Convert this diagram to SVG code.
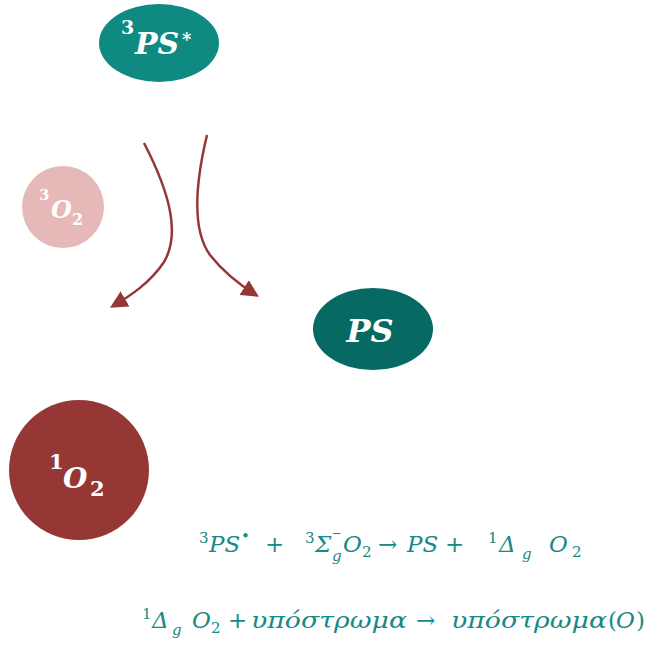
<svg xmlns="http://www.w3.org/2000/svg" width="654" height="649" viewBox="0 0 654 649">
<defs>
<style>
.lbl{font-family:"DejaVu Serif","Liberation Serif",serif;font-style:italic;font-weight:bold;fill:#ffffff}
.sup{font-family:"DejaVu Serif","Liberation Serif",serif;font-style:normal;font-weight:bold;fill:#ffffff}
.eq{font-family:"DejaVu Serif","Liberation Serif",serif;font-style:italic;fill:#168a84;font-size:23px}
.up{font-style:normal}
.sm{font-size:15px}
.xs{font-size:12px}
.conn{fill:none;stroke:#953735;stroke-width:2.5}
</style>
<marker id="ah" viewBox="0 0 10 10" refX="8" refY="5" markerWidth="7" markerHeight="7" markerUnits="strokeWidth" orient="auto">
<path d="M0,0 L10,5 L0,10 Z" fill="#953735"/>
</marker>
</defs>
<rect width="654" height="649" fill="#ffffff"/>
<g id="connectors">
<path class="conn" d="M144,143 C171,195 180,235 164,262 C150,283 130,296 113,306" marker-end="url(#ah)"/>
<path class="conn" d="M207,135 C195,185 192,230 210,255 C225,274 240,285 256,295" marker-end="url(#ah)"/>
</g>
<g id="node-3PS">
<ellipse cx="159" cy="43" rx="60" ry="39" fill="#0e8a80"/>
<text class="sup" x="121" y="34" font-size="19">3</text>
<text class="lbl" x="135" y="54" font-size="30">PS</text>
<text class="sup" x="182" y="46" font-size="18" font-weight="normal">*</text>
</g>
<g id="node-3O2">
<circle cx="63" cy="207" r="41" fill="#e6b8b8"/>
<text class="sup" x="39" y="200" font-size="15">3</text>
<text class="lbl" x="51" y="218" font-size="24">O</text>
<text class="sup" x="72" y="225" font-size="16">2</text>
</g>
<g id="node-PS">
<ellipse cx="373" cy="329" rx="60" ry="41" fill="#076a62"/>
<text class="lbl" x="370" y="342" font-size="32" text-anchor="middle">PS</text>
</g>
<g id="node-1O2">
<circle cx="79" cy="470" r="70" fill="#953735"/>
<text class="sup" x="49" y="469" font-size="21">1</text>
<text class="lbl" x="63" y="488" font-size="28">O</text>
<text class="sup" x="90" y="496" font-size="21">2</text>
</g>
<g id="equations">
<text class="eq up sm" x="199" y="543">3</text>
<text class="eq" x="209" y="552">PS</text>
<text class="eq up sm" x="241" y="541">•</text>
<text class="eq up" x="265" y="552">+</text>
<text class="eq up sm" x="305" y="543">3</text>
<text class="eq" x="315" y="552">Σ</text>
<text class="eq up xs" x="331.5" y="537">−</text>
<text class="eq sm" x="332" y="561">g</text>
<text class="eq" x="343" y="552">O</text>
<text class="eq up sm" x="362" y="557">2</text>
<text class="eq up" x="378" y="552">→</text>
<text class="eq" x="407" y="552">PS</text>
<text class="eq up" x="445" y="552">+</text>
<text class="eq up sm" x="488" y="543">1</text>
<text class="eq" x="499" y="552">Δ</text>
<text class="eq sm" x="522" y="559">g</text>
<text class="eq" x="549" y="552">O</text>
<text class="eq up sm" x="572" y="557">2</text>

<text class="eq up sm" x="142" y="619">1</text>
<text class="eq" x="152" y="628">Δ</text>
<text class="eq sm" x="172" y="635">g</text>
<text class="eq" x="192" y="628">O</text>
<text class="eq up sm" x="211" y="633">2</text>
<text class="eq up" x="228" y="628">+</text>
<text class="eq" x="251" y="628" textLength="156" lengthAdjust="spacingAndGlyphs">υπόστρωμα</text>
<text class="eq up" x="416" y="628">→</text>
<text class="eq" x="451" y="628" textLength="156" lengthAdjust="spacingAndGlyphs">υπόστρωμα</text>
<text class="eq up" x="608" y="628">(</text>
<text class="eq" x="616" y="628">O</text>
<text class="eq up" x="636" y="628">)</text>
</g>
</svg>
